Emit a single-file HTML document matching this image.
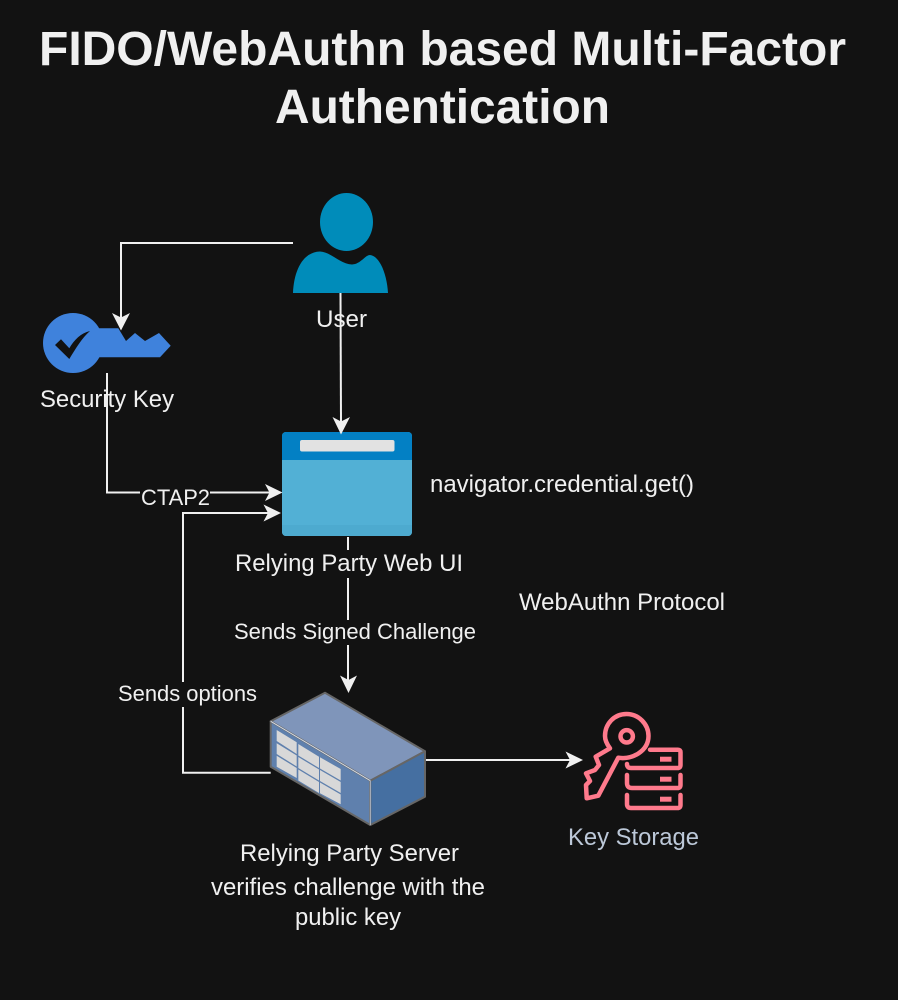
<!DOCTYPE html>
<html>
<head>
<meta charset="utf-8">
<style>
html,body{margin:0;padding:0;background:#121212;width:898px;height:1000px;overflow:hidden}
svg{display:block}
text{font-family:"Liberation Sans",Arial,sans-serif;fill:#f0f0f0;font-size:24px}
.t{font-size:48px;font-weight:bold}
.s{font-size:22px}
.c{stroke:#f0f0f0;stroke-width:2;fill:none}
.a{fill:#f0f0f0;stroke:none}
</style>
</head>
<body>
<svg width="898" height="1000" viewBox="0 0 898 1000" xmlns="http://www.w3.org/2000/svg">
<rect width="898" height="1000" fill="#121212"/>

<text class="t" x="39" y="65" textLength="807" lengthAdjust="spacingAndGlyphs">FIDO/WebAuthn based Multi-Factor</text>
<text class="t" x="275" y="123" textLength="335" lengthAdjust="spacingAndGlyphs">Authentication</text>

<!-- User -->
<ellipse cx="346.5" cy="222" rx="26.5" ry="29" fill="#008cba"/>
<path d="M293 293 C294 270 303 252 320 251.5 C331 252 340 264 352 264.5 C361 264 365 255 370 255 C380 256 387 275 388 293 Z" fill="#008cba"/>

<!-- Security key -->
<circle cx="73" cy="343" r="30" fill="#3f82dc"/>
<polygon points="95,328.3 118.3,328.3 126,341 135,333 145,341 159,333 170.7,345.7 160,357.3 95,357.3" fill="#3f82dc"/>
<path d="M55 345 L61 339.3 L69.3 348.3 C74 340 81 333 90 331 C82 338 76 348 69.3 359 Z" fill="#121212"/>

<!-- Browser -->
<rect x="282" y="432" width="130" height="104" rx="4" fill="#52b0d5"/>
<path d="M282 460 V436 a4 4 0 0 1 4 -4 H408 a4 4 0 0 1 4 4 V460 Z" fill="#0380c4"/>
<path d="M282 525 H412 V532 a4 4 0 0 1 -4 4 H286 a4 4 0 0 1 -4 -4 Z" fill="#4daacf"/>
<rect x="300" y="440" width="94.5" height="11.5" rx="2" fill="#e2e2e2"/>

<!-- Server -->
<polygon points="270.7,721.3 325,692.7 425,751.3 370.3,780.7" fill="#7f95ba" stroke="#666" stroke-width="2" stroke-linejoin="round"/>
<polygon points="270.7,721.3 370.3,780.7 370.3,825 270.7,766.7" fill="#5f80ad" stroke="#666" stroke-width="2" stroke-linejoin="round"/>
<polygon points="370.3,780.7 425,751.3 425,796.7 370.3,825" fill="#456fa1" stroke="#666" stroke-width="2" stroke-linejoin="round"/>
<line x1="270.7" y1="721.3" x2="370.3" y2="780.7" stroke="#d5dbe5" stroke-width="1"/>
<line x1="370.3" y1="780.7" x2="370.3" y2="825" stroke="#b5bdcb" stroke-width="1"/>
<g fill="#d8d8d8">
<polygon points="276.7,730 296.7,742.3 296.7,754 276.7,741"/>
<polygon points="298.3,744 319,756.7 319,768 298.3,755.5"/>
<polygon points="320,757.3 340.7,769 340.7,780.5 320,768.5"/>
<polygon points="276.7,743.3 296.7,755.5 296.7,766.5 276.7,754"/>
<polygon points="298.3,757 319,769.5 319,780.5 298.3,768"/>
<polygon points="320,770 340.7,782 340.7,793 320,781"/>
<polygon points="276.7,755.7 296.7,768 296.7,778 276.7,766.7"/>
<polygon points="298.3,769.5 319,782 319,793 298.3,780.5"/>
<polygon points="320,782.5 340.7,794.5 340.7,804.3 320,793.3"/>
</g>

<!-- Key Storage icon -->
<g fill="none" stroke="#ff7a8c" stroke-width="4.5" stroke-linejoin="round" stroke-linecap="round">
<circle cx="626.7" cy="736.3" r="6.2"/>
<path d="M618.3 757.7 C632 760 648.5 751 648.5 736 C648.5 724 638.5 714 626.5 714 C614 714 605 724 605 736 C605 741 607.5 745 610 748.3 L595.7 756.7 L599 765 L595 770 L586 773.3 L590 781 L586 785 L586.7 798.3 L598.3 795.7 Z"/>
<path d="M650 749.7 H678 Q680.5 749.7 680.5 752.2 V765 Q680.5 768 677.5 768 H631 Q627 768 627 764"/>
<path d="M627 775 V783 Q627 788 632 788 H677.5 Q680.5 788 680.5 785 V775"/>
<path d="M627 795 V804 Q627 808 631 808 H677.5 Q680.5 808 680.5 805 V795"/>
</g>
<g fill="#ff7a8c">
<rect x="660" y="756.7" width="11.5" height="5"/>
<rect x="660" y="776.7" width="11.5" height="5"/>
<rect x="660" y="796.7" width="11.5" height="5"/>
</g>

<!-- Connectors -->
<path class="c" d="M293 243 H121 V320"/>
<polygon class="a" points="121,330.5 112,313 121,317.5 130,313"/>

<path class="c" d="M340.5 293 L341 424"/>
<polygon class="a" points="341,434.5 332.5,417 341,421.5 350,417"/>

<path class="c" d="M107 373 V492.5 H272"/>
<polygon class="a" points="282.5,492.5 265,484 269.5,492.5 265,501"/>

<path class="c" d="M270.7 772.7 H183 V513 H271"/>
<polygon class="a" points="281,513 263.5,504.5 268,513 263.5,521.5"/>

<path class="c" d="M348 537 V683"/>
<polygon class="a" points="348.5,693 340,675.5 348.5,680 357,675.5"/>

<path class="c" d="M426 760 H573"/>
<polygon class="a" points="583,760 565.5,751.5 570,760 565.5,768.5"/>

<!-- label backgrounds -->
<rect x="140" y="486" width="70" height="20" fill="#121212"/>
<rect x="234" y="550" width="230" height="28" fill="#121212"/>
<rect x="233" y="620" width="244" height="25" fill="#121212"/>
<rect x="117" y="682" width="141" height="25" fill="#121212"/>

<!-- Labels -->
<text x="316" y="327" textLength="51" lengthAdjust="spacingAndGlyphs">User</text>
<text x="40" y="407" textLength="134" lengthAdjust="spacingAndGlyphs">Security Key</text>
<text class="s" x="141" y="505" textLength="69" lengthAdjust="spacingAndGlyphs">CTAP2</text>
<text x="430" y="492" textLength="264" lengthAdjust="spacingAndGlyphs">navigator.credential.get()</text>
<text x="235" y="571" textLength="228" lengthAdjust="spacingAndGlyphs">Relying Party Web UI</text>
<text x="519" y="610" textLength="206" lengthAdjust="spacingAndGlyphs">WebAuthn Protocol</text>
<text class="s" x="234" y="639" textLength="242" lengthAdjust="spacingAndGlyphs">Sends Signed Challenge</text>
<text class="s" x="118" y="701" textLength="139" lengthAdjust="spacingAndGlyphs">Sends options</text>
<text x="240" y="861" textLength="219" lengthAdjust="spacingAndGlyphs">Relying Party Server</text>
<text x="211" y="895" textLength="274" lengthAdjust="spacingAndGlyphs">verifies challenge with the</text>
<text x="295" y="925" textLength="106" lengthAdjust="spacingAndGlyphs">public key</text>
<text x="568" y="845" textLength="131" lengthAdjust="spacingAndGlyphs" style="fill:#bcc8d8">Key Storage</text>
</svg>
</body>
</html>
